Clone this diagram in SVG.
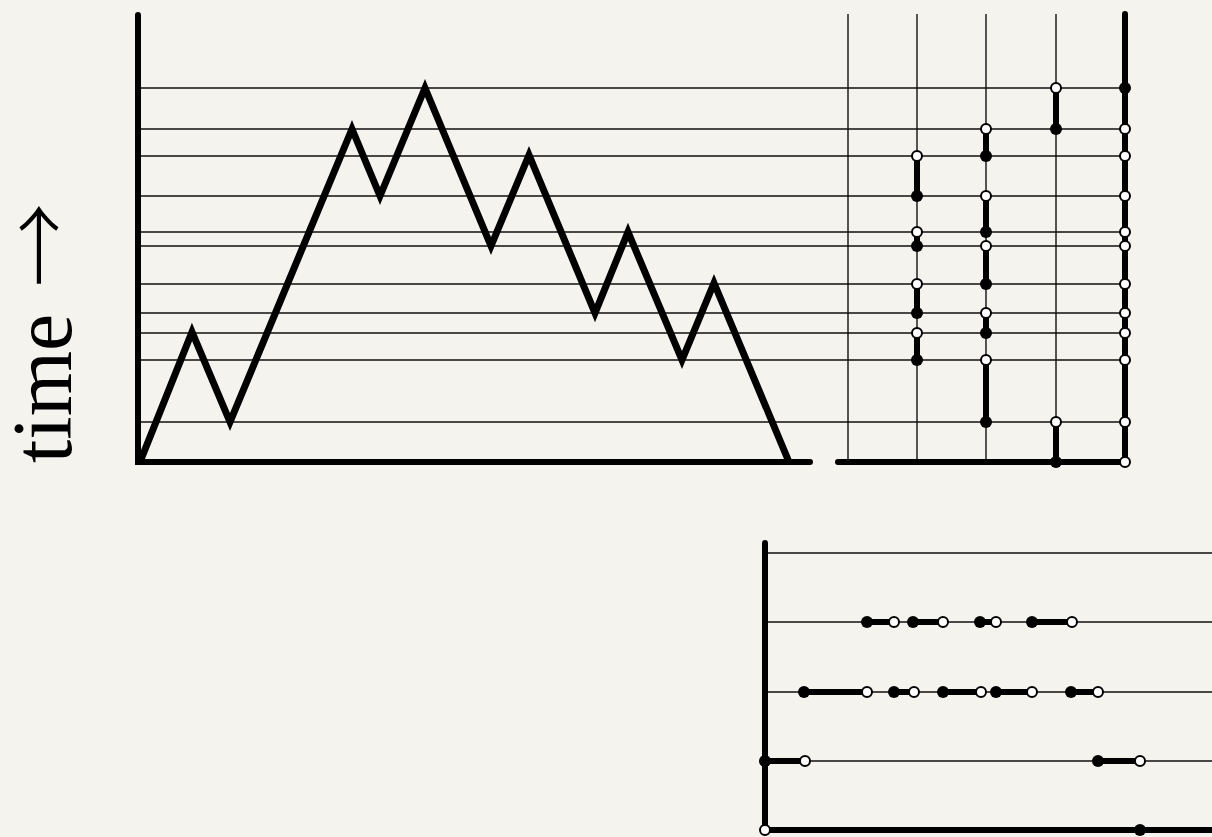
<svg xmlns="http://www.w3.org/2000/svg" width="1212" height="837" viewBox="0 0 1212 837">
<style>
.thin{stroke:#111;stroke-width:1.4;fill:none}
.thick{stroke:#000;stroke-width:6;stroke-linecap:round;fill:none}
.seg{stroke:#000;stroke-width:6;fill:none}
.mtn{stroke:#000;stroke-width:7;stroke-linejoin:miter;fill:none}
.o{fill:#fff;stroke:#000;stroke-width:2}
.f{fill:#000}
.lbl{font-family:"Liberation Serif","DejaVu Serif",serif;font-size:84px;fill:#000}
.arr{font-family:"Noto Sans CJK JP","DejaVu Sans",sans-serif;font-size:84px;font-weight:300}
</style>
<rect width="1212" height="837" fill="#f5f3ee"/>
<g id="label">
<text class="lbl" transform="translate(71,463) rotate(-90)">time <tspan class="arr" x="176">→</tspan></text>
</g>
<g id="grid">
<path class="thin" d="M140 88H1125M140 129H1125M140 156H1125M140 196H1125M140 232H1125M140 246H1125M140 284H1125M140 313H1125M140 333H1125M140 360H1125M140 422H1125"/>
<path class="thin" d="M848 14V462M917 14V462M986 14V462M1056 14V462"/>
<path class="thin" d="M765 553H1212M765 622H1212M765 692H1212M765 761H1212"/>
</g>
<g id="left-panel">
<path class="thick" d="M138 15V462H810"/>
<path class="mtn" d="M140 462L192 332L230 422L352 129L380 196L425 88L491 246L529 155L595 313L628 232L682 360L714 283L789 462"/>
</g>
<g id="right-panel">
<path class="thick" d="M838 462H1125M1125 14V462"/>
<path class="seg" d="M917 156V196M917 232V246M917 284V313M917 333V360M986 129V156M986 196V232M986 246V284M986 313V333M986 360V422M1056 88V129M1056 422V462"/>
<g class="f">
<circle cx="917" cy="196" r="6"/><circle cx="917" cy="246" r="6"/><circle cx="917" cy="313" r="6"/><circle cx="917" cy="360" r="6"/>
<circle cx="986" cy="156" r="6"/><circle cx="986" cy="232" r="6"/><circle cx="986" cy="284" r="6"/><circle cx="986" cy="333" r="6"/><circle cx="986" cy="422" r="6"/>
<circle cx="1056" cy="129" r="6"/><circle cx="1056" cy="462" r="6"/>
<circle cx="1125" cy="88" r="6"/>
</g>
<g class="o">
<circle cx="917" cy="156" r="5"/><circle cx="917" cy="232" r="5"/><circle cx="917" cy="284" r="5"/><circle cx="917" cy="333" r="5"/>
<circle cx="986" cy="129" r="5"/><circle cx="986" cy="196" r="5"/><circle cx="986" cy="246" r="5"/><circle cx="986" cy="313" r="5"/><circle cx="986" cy="360" r="5"/>
<circle cx="1056" cy="88" r="5"/><circle cx="1056" cy="422" r="5"/>
<circle cx="1125" cy="129" r="5"/><circle cx="1125" cy="156" r="5"/><circle cx="1125" cy="196" r="5"/><circle cx="1125" cy="232" r="5"/><circle cx="1125" cy="246" r="5"/><circle cx="1125" cy="284" r="5"/><circle cx="1125" cy="313" r="5"/><circle cx="1125" cy="333" r="5"/><circle cx="1125" cy="360" r="5"/><circle cx="1125" cy="422" r="5"/><circle cx="1125" cy="462" r="5"/>
</g>
</g>
<g id="bottom-panel">
<path class="thick" d="M765 543V830H1212"/>
<path class="seg" d="M867 622H894M913 622H943M980 622H996M1032 622H1072M804 692H867M894 692H914M943 692H981M996 692H1032M1071 692H1098M765 761H805M1098 761H1140"/>
<g class="f">
<circle cx="867" cy="622" r="6"/><circle cx="913" cy="622" r="6"/><circle cx="980" cy="622" r="6"/><circle cx="1032" cy="622" r="6"/>
<circle cx="804" cy="692" r="6"/><circle cx="894" cy="692" r="6"/><circle cx="943" cy="692" r="6"/><circle cx="996" cy="692" r="6"/><circle cx="1071" cy="692" r="6"/>
<circle cx="765" cy="761" r="6"/><circle cx="1098" cy="761" r="6"/>
<circle cx="1140" cy="830" r="6"/>
</g>
<g class="o">
<circle cx="894" cy="622" r="5"/><circle cx="943" cy="622" r="5"/><circle cx="996" cy="622" r="5"/><circle cx="1072" cy="622" r="5"/>
<circle cx="867" cy="692" r="5"/><circle cx="914" cy="692" r="5"/><circle cx="981" cy="692" r="5"/><circle cx="1032" cy="692" r="5"/><circle cx="1098" cy="692" r="5"/>
<circle cx="805" cy="761" r="5"/><circle cx="1140" cy="761" r="5"/>
<circle cx="765" cy="830" r="5"/>
</g>
</g>
</svg>
